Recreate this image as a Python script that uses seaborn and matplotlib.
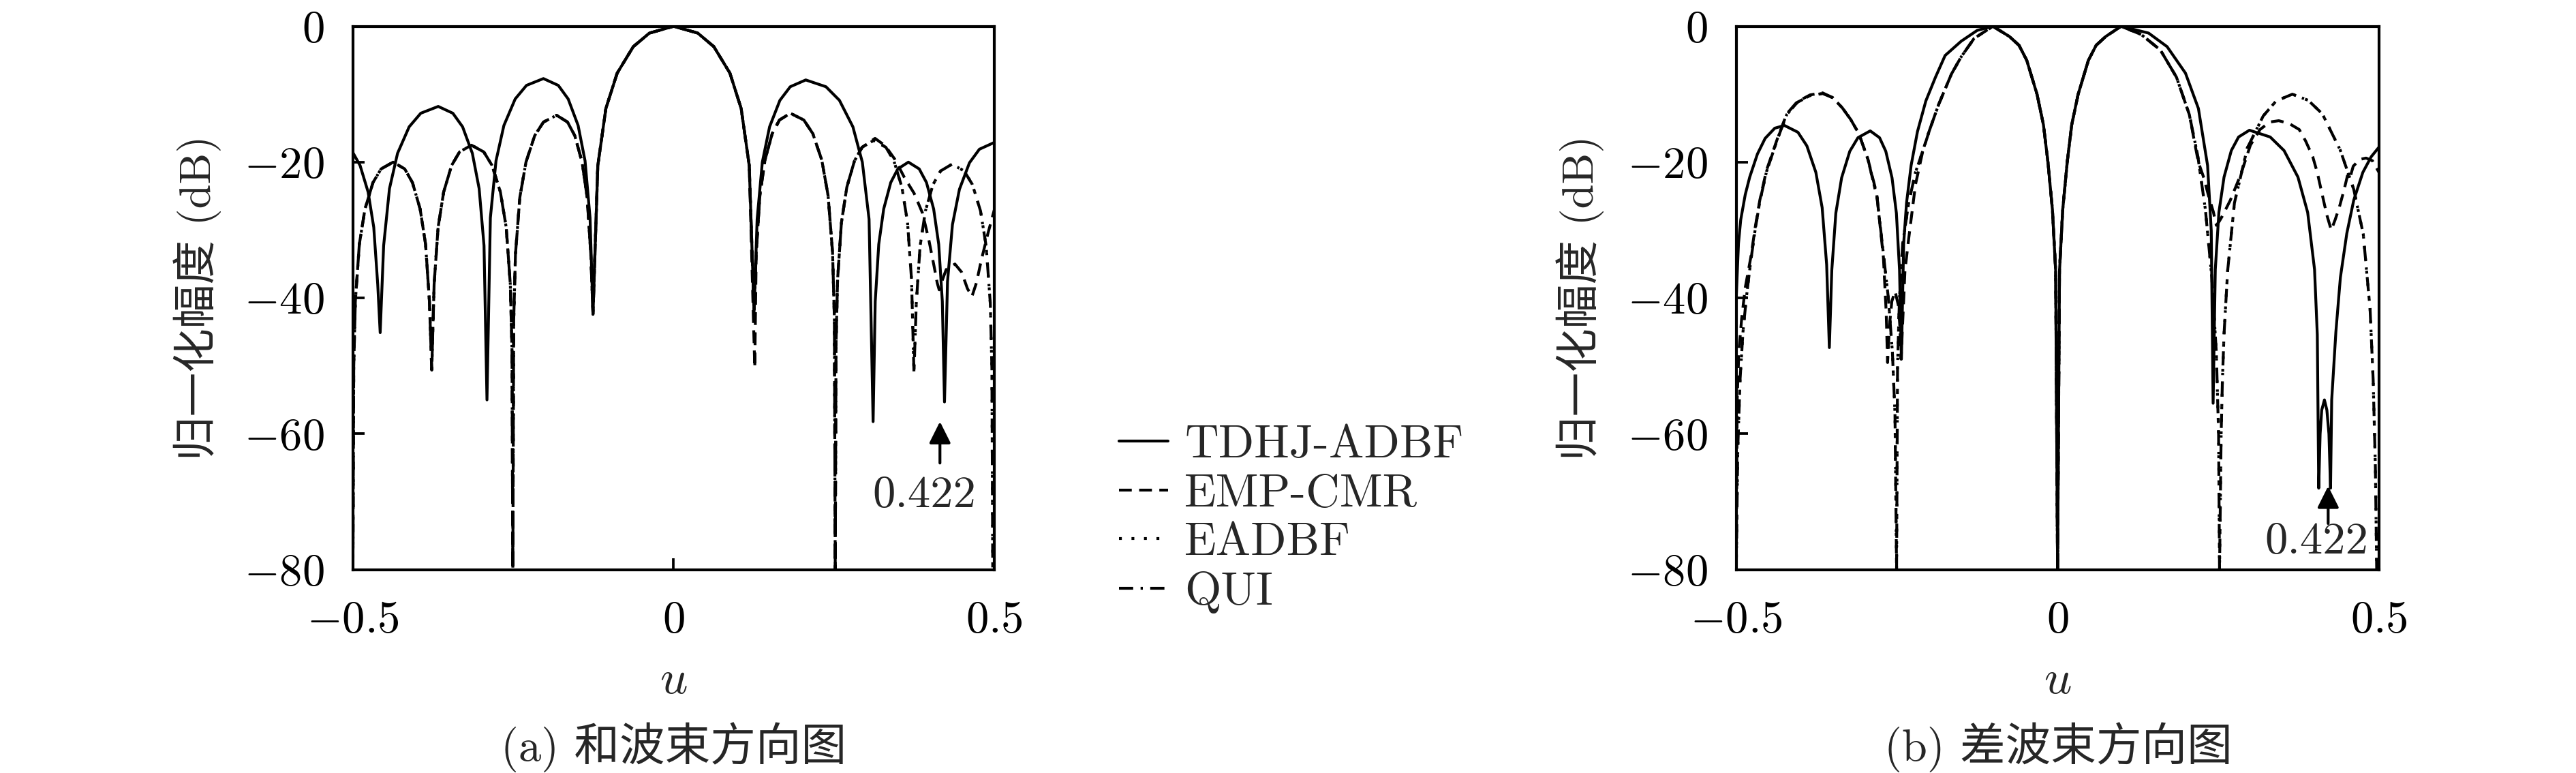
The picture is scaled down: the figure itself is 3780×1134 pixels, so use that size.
import matplotlib
matplotlib.use('Agg')
import matplotlib.pyplot as plt
import seaborn as sns

# ---- data (u, normalised gain in dB) ----

# (a) sum beam
tdhj_sum_u = [-0.5, -0.4888, -0.4763, -0.4675, -0.4613, -0.4575,
              -0.4521, -0.4430, -0.4304, -0.4123, -0.3942, -0.367,
              -0.3442, -0.3290, -0.3138, -0.3032, -0.2956, -0.291,
              -0.2857, -0.2769, -0.2646, -0.2470, -0.2294, -0.203,
              -0.1798, -0.1644, -0.1489, -0.1381, -0.1303, -0.1257,
              -0.1182, -0.1056, -0.0880, -0.0629, -0.0377, 0.0,
              0.0376, 0.0627, 0.0878, 0.1053, 0.1179, 0.1254,
              0.1302, 0.1383, 0.1496, 0.1657, 0.1818, 0.206,
              0.2375, 0.2585, 0.2795, 0.2942, 0.3047, 0.311,
              0.3143, 0.3198, 0.3275, 0.3385, 0.3495, 0.366,
              0.3829, 0.3942, 0.4054, 0.4133, 0.4189, 0.4223,
              0.4270, 0.4347, 0.4456, 0.4612, 0.4767, 0.5]
tdhj_sum_db = [-18.6, -20.5, -24.4, -29.6, -38.0, -45.1,
               -32.3, -23.9, -18.7, -14.8, -12.8, -11.8,
               -12.8, -14.8, -18.7, -23.9, -32.3, -55.0,
               -28.2, -19.8, -14.6, -10.7, -8.7, -7.7,
               -8.7, -10.7, -14.6, -19.8, -28.2, -42.4,
               -20.5, -12.1, -6.9, -3.0, -1.0, 0.0,
               -1.0, -3.0, -6.9, -12.1, -20.5, -42.0,
               -28.4, -20.0, -14.8, -10.9, -8.9, -7.9,
               -8.9, -10.9, -14.8, -20.0, -28.4, -58.2,
               -40.5, -32.1, -26.9, -23.0, -21.0, -20.0,
               -21.0, -23.0, -26.9, -32.1, -40.5, -55.3,
               -37.6, -29.2, -24.0, -20.1, -18.1, -17.1]

qui_sum_u = [-0.5, -0.4987, -0.4962, -0.49, -0.4812, -0.4687, -0.4561, -0.4373,
             -0.4192, -0.4072, -0.3952, -0.3867, -0.3807, -0.3771,
             -0.3734, -0.3672, -0.3585, -0.3462, -0.3338, -0.3152,
             -0.2959, -0.2830, -0.2701, -0.2610, -0.2546, -0.2520, -0.2507,
             -0.2493, -0.2466, -0.2398, -0.2302, -0.2166, -0.2029, -0.1824,
             -0.1654, -0.1541, -0.1427, -0.1348, -0.1291, -0.1257,
             -0.1182, -0.1056, -0.0880, -0.0629, -0.0377, 0.0,
             0.0376, 0.0627, 0.0878, 0.1053, 0.1179, 0.1254,
             0.1288, 0.1345, 0.1424, 0.1537, 0.1650, 0.182,
             0.203, 0.217, 0.231, 0.2408, 0.2478, 0.2506, 0.252,
             0.2532, 0.2556, 0.2616, 0.270, 0.282, 0.294, 0.312,
             0.3308, 0.3434, 0.3559, 0.3647, 0.3709, 0.3747,
             0.3783, 0.3842, 0.3925, 0.4044, 0.4162, 0.434,
             0.453, 0.4658, 0.4785, 0.4873, 0.4937, 0.4962, 0.4975]
qui_sum_db = [-80.0, -50.1, -40.5, -32.1, -26.9, -23.0, -21.0, -20.0,
              -21.0, -23.0, -26.9, -32.1, -40.5, -50.6,
              -38.0, -29.6, -24.4, -20.5, -18.5, -17.5,
              -18.5, -20.5, -24.4, -29.6, -38.0, -47.6, -80.0,
              -43.2, -33.6, -25.2, -20.0, -16.1, -14.1, -13.1,
              -14.1, -16.1, -20.0, -25.2, -33.6, -42.4,
              -20.5, -12.1, -6.9, -3.0, -1.0, 0.0,
              -1.0, -3.0, -6.9, -12.1, -20.5, -42.0,
              -33.3, -24.9, -19.7, -15.8, -13.8, -12.8,
              -13.8, -15.8, -19.7, -24.9, -33.3, -42.9, -80.0,
              -46.9, -37.3, -28.9, -23.7, -19.8, -17.8, -16.8,
              -17.8, -19.8, -23.7, -28.9, -37.3, -51.0,
              -40.8, -32.4, -27.2, -23.3, -21.3, -20.3,
              -21.3, -23.3, -27.2, -32.4, -40.8, -50.4, -80.0]

emp_sum_u = [-0.5, -0.4987, -0.4962, -0.49, -0.4812, -0.4687, -0.4561, -0.4373,
             -0.4192, -0.4072, -0.3952, -0.3867, -0.3807, -0.3771,
             -0.3734, -0.3672, -0.3585, -0.3462, -0.3338, -0.3152,
             -0.2959, -0.2830, -0.2701, -0.2610, -0.2546, -0.2520, -0.2507,
             -0.2493, -0.2466, -0.2398, -0.2302, -0.2166, -0.2029, -0.1824,
             -0.1654, -0.1541, -0.1427, -0.1348, -0.1291, -0.1257,
             -0.1182, -0.1056, -0.0880, -0.0629, -0.0377, 0.0,
             0.0376, 0.0627, 0.0878, 0.1053, 0.1179, 0.1265,
             0.1288, 0.1345, 0.1424, 0.1537, 0.1650, 0.182,
             0.203, 0.217, 0.231, 0.2408, 0.2478, 0.2506, 0.252,
             0.2532, 0.2556, 0.2616, 0.270, 0.282, 0.294, 0.314,
             0.33, 0.345, 0.36, 0.375, 0.388, 0.398, 0.406, 0.411, 0.414,
             0.418, 0.425, 0.4386, 0.449, 0.458, 0.465, 0.472, 0.48, 0.49, 0.5]
emp_sum_db = [-80.0, -50.1, -40.5, -32.1, -26.9, -23.0, -21.0, -20.0,
              -21.0, -23.0, -26.9, -32.1, -40.5, -50.6,
              -38.0, -29.6, -24.4, -20.5, -18.5, -17.5,
              -18.5, -20.5, -24.4, -29.6, -38.0, -47.6, -80.0,
              -43.2, -33.6, -25.2, -20.0, -16.1, -14.1, -13.1,
              -14.1, -16.1, -20.0, -25.2, -33.6, -42.4,
              -20.5, -12.1, -6.9, -3.0, -1.0, 0.0,
              -1.0, -3.0, -6.9, -12.1, -20.5, -50.3,
              -33.3, -24.9, -19.7, -15.8, -13.8, -12.8,
              -13.8, -15.8, -19.7, -24.9, -33.3, -42.9, -80.0,
              -46.9, -37.3, -28.9, -23.7, -19.8, -17.8, -16.5,
              -17.6, -19.6, -22.3, -24.6, -27.5, -31.5, -35.3, -37.8, -38.8,
              -37.6, -35.8, -35.0, -36.2, -38.6, -39.8, -37.8, -34.3, -30.5, -27.0]

# EADBF lies on top of QUI in the sum beam
eadbf_sum_u = list(qui_sum_u)
eadbf_sum_db = list(qui_sum_db)

# (b) difference beam
tdhj_dif_u = [-0.5, -0.4965, -0.493, -0.486, -0.479, -0.467, -0.455, -0.44, -0.425,
              -0.404, -0.3901, -0.3761, -0.3663, -0.3593, -0.3551,
              -0.3513, -0.345, -0.336, -0.3233, -0.3106, -0.2915,
              -0.277, -0.2673, -0.2576, -0.2508, -0.2459, -0.243,
              -0.2395, -0.235, -0.2279, -0.218, -0.205, -0.19, -0.175, -0.15, -0.125, -0.1007,
              -0.075, -0.06, -0.048, -0.032, -0.022, -0.015, -0.008, -0.003, 0.0,
              0.003, 0.008, 0.015, 0.022, 0.032, 0.048, 0.06, 0.075, 0.0988,
              0.1416, 0.1704, 0.199, 0.2191, 0.2334, 0.2391, 0.242,
              0.2454, 0.251, 0.259, 0.2703, 0.2816, 0.2985,
              0.3308, 0.3524, 0.374, 0.3891, 0.3998, 0.4041, 0.4063,
              0.4085, 0.411, 0.4152, 0.419, 0.4222, 0.4247,
              0.4265, 0.433, 0.44, 0.45, 0.4608, 0.475, 0.488, 0.5]
tdhj_dif_db = [-40.0, -32.0, -28.5, -24.8, -22.2, -18.8, -16.5, -15.0, -14.6,
               -15.6, -17.6, -21.5, -26.7, -35.1, -47.3,
               -35.9, -27.5, -22.3, -18.4, -16.4, -15.4,
               -16.4, -18.4, -22.3, -27.5, -35.9, -49.0,
               -32.0, -26.0, -20.5, -15.5, -11.0, -7.5, -4.3, -2.2, -0.6, 0.0,
               -1.5, -2.8, -5.0, -10.0, -14.5, -20.0, -27.0, -36.0, -80.0,
               -36.0, -27.0, -20.0, -14.5, -10.0, -5.0, -2.8, -1.5, 0.0,
               -1.0, -3.0, -6.9, -12.1, -20.5, -30.1, -55.5,
               -35.8, -27.4, -22.2, -18.3, -16.3, -15.3,
               -16.3, -18.3, -22.2, -27.4, -35.8, -45.4, -68.0,
               -60.0, -56.5, -55.0, -56.5, -60.0, -68.0,
               -55.0, -45.0, -37.0, -30.5, -25.6, -21.5, -19.2, -17.8]

qui_dif_u = [-0.5, -0.4975, -0.494, -0.4895, -0.4843, -0.4773, -0.4703, -0.4633,
             -0.4529, -0.4354, -0.4214, -0.405, -0.385, -0.3657,
             -0.35, -0.335, -0.322, -0.3092, -0.295, -0.2809, -0.271, -0.2633, -0.257, -0.253, -0.2505,
             -0.249, -0.246, -0.241, -0.2317, -0.2211, -0.2138, -0.2, -0.185, -0.165, -0.15, -0.13, -0.1007,
             -0.075, -0.06, -0.048, -0.032, -0.022, -0.015, -0.008, -0.003, 0.0,
             0.003, 0.008, 0.015, 0.022, 0.032, 0.048, 0.06, 0.075, 0.0988,
             0.13, 0.16, 0.185, 0.205, 0.218, 0.23, 0.24, 0.247, 0.2505, 0.252,
             0.2545, 0.2565, 0.259, 0.2646, 0.2752, 0.2953, 0.32, 0.34, 0.3653,
             0.39, 0.412, 0.4397, 0.4608, 0.4756, 0.4862, 0.491, 0.4945, 0.4965]
qui_dif_db = [-80.0, -62.0, -52.0, -45.0, -40.0, -34.5, -29.8, -25.8,
              -21.4, -16.5, -13.0, -11.2, -10.2, -9.9,
              -10.5, -12.0, -13.7, -15.8, -19.6, -25.2, -33.5, -40.0, -48.0, -57.0, -80.0,
              -50.0, -40.0, -32.0, -26.0, -21.5, -19.5, -15.5, -11.5, -7.0, -4.5, -1.8, 0.0,
              -1.5, -2.8, -5.0, -10.0, -14.5, -20.0, -27.0, -36.0, -80.0,
              -36.0, -27.0, -20.0, -14.5, -10.0, -5.0, -2.8, -1.5, 0.0,
              -1.2, -3.5, -7.5, -13.0, -19.0, -27.0, -37.0, -48.0, -60.0, -80.0,
              -60.0, -52.0, -45.3, -36.0, -26.0, -17.9, -13.2, -11.0, -10.0,
              -10.9, -12.9, -18.2, -24.0, -30.6, -41.6, -52.0, -65.0, -80.0]

emp_dif_u = [-0.5, -0.4985, -0.496, -0.4915, -0.486, -0.4773, -0.4703, -0.4633,
             -0.4529, -0.4354, -0.4214, -0.405, -0.385, -0.3657,
             -0.35, -0.335, -0.322, -0.3092, -0.295, -0.2815, -0.271, -0.2667, -0.2645,
             -0.2615, -0.2579, -0.2529, -0.2479, -0.2455, -0.2435,
             -0.2375, -0.2317, -0.2211, -0.21, -0.2, -0.185, -0.165, -0.15, -0.13, -0.1007,
             -0.075, -0.06, -0.048, -0.032, -0.022, -0.015, -0.008, -0.003, 0.0,
             0.003, 0.008, 0.015, 0.022, 0.032, 0.048, 0.06, 0.075, 0.0988,
             0.13, 0.16, 0.185, 0.205, 0.219, 0.2275, 0.235, 0.2423, 0.247, 0.251, 0.256,
             0.2688, 0.2847, 0.3, 0.315, 0.33, 0.3441, 0.36, 0.376, 0.386, 0.397, 0.404,
             0.413, 0.419, 0.4258, 0.4318, 0.4385, 0.446, 0.451, 0.4544, 0.46, 0.4703,
             0.48, 0.49, 0.5]
emp_dif_db = [-80.0, -55.0, -48.0, -43.0, -38.5, -34.0, -29.5, -25.6,
              -21.2, -16.4, -12.9, -11.1, -10.1, -9.8,
              -10.5, -12.0, -13.7, -15.8, -19.6, -24.6, -34.0, -42.0, -49.5,
              -44.0, -40.5, -39.0, -41.0, -44.0, -49.0,
              -36.0, -31.3, -23.3, -18.5, -15.5, -11.5, -7.0, -4.5, -1.8, 0.0,
              -1.5, -2.8, -5.0, -10.0, -14.5, -20.0, -27.0, -36.0, -80.0,
              -36.0, -27.0, -20.0, -14.5, -10.0, -5.0, -2.8, -1.5, 0.0,
              -1.2, -3.5, -7.5, -13.0, -20.0, -22.3, -25.0, -27.3, -29.3, -28.8, -28.0,
              -25.6, -21.9, -17.5, -15.2, -14.1, -13.9, -14.3, -15.2, -16.9, -19.2, -21.5,
              -25.3, -27.8, -30.0, -28.5, -26.6, -24.0, -22.0, -22.5, -20.6, -19.6,
              -19.4, -19.8, -21.5]

# EADBF lies on top of QUI in the difference beam as well
eadbf_dif_u = list(qui_dif_u)
eadbf_dif_db = list(qui_dif_db)

METHODS = ['TDHJ-ADBF', 'EMP-CMR', 'EADBF', 'QUI']
STYLES = {'TDHJ-ADBF': '-',
          'EMP-CMR': (0, (4.5, 2.6)),
          'EADBF': (0, (1.0, 3.4)),
          'QUI': (0, (5.0, 2.6, 0.8, 2.6))}

SUM = {'TDHJ-ADBF': (tdhj_sum_u, tdhj_sum_db), 'EMP-CMR': (emp_sum_u, emp_sum_db),
       'EADBF': (eadbf_sum_u, eadbf_sum_db), 'QUI': (qui_sum_u, qui_sum_db)}
DIF = {'TDHJ-ADBF': (tdhj_dif_u, tdhj_dif_db), 'EMP-CMR': (emp_dif_u, emp_dif_db),
       'EADBF': (eadbf_dif_u, eadbf_dif_db), 'QUI': (qui_dif_u, qui_dif_db)}

ANNOT_U = [0.4152, 0.421]
ANNOT_TEXT = '0.422'

sns.set_style('ticks')
plt.rcParams['font.family'] = ['cmr10', 'Noto Sans CJK SC', 'DejaVu Sans']
plt.rcParams['mathtext.fontset'] = 'cm'
plt.rcParams['axes.formatter.use_mathtext'] = True
plt.rcParams['axes.linewidth'] = 1.0

fig = plt.figure(figsize=(12.6, 3.78), dpi=300)
ax_a = fig.add_axes([0.137, 0.263, 0.249, 0.703])
ax_b = fig.add_axes([0.674, 0.263, 0.2495, 0.703])

for ax, data in ((ax_a, SUM), (ax_b, DIF)):
    for m in METHODS:
        u, db = data[m]
        sns.lineplot(x=u, y=db, ax=ax, color='black', lw=1.0, sort=False,
                     estimator=None, legend=False, label=m, linestyle=STYLES[m])
    ax.set_xlim(-0.5, 0.5)
    ax.set_ylim(-80, 0)
    ax.set_xticks([-0.5, 0, 0.5])
    ax.set_xticklabels([r'$-0.5$', r'$0$', r'$0.5$'])
    ax.set_yticks([0, -20, -40, -60, -80])
    ax.set_yticklabels([r'$0$', r'$-20$', r'$-40$', r'$-60$', r'$-80$'])
    ax.tick_params(direction='in', length=4, width=0.9, labelsize=16, colors='black')
    ax.tick_params(axis='y', pad=10)
    ax.tick_params(axis='x', pad=11)
    for s in ax.spines.values():
        s.set_visible(True)
        s.set_color('black')
        s.set_linewidth(1.0)
    ax.set_xlabel(r'$u$', fontsize=17)
    ax.xaxis.set_label_coords(0.5, -0.165)
    ax.set_ylabel('归一化幅度 (dB)', fontsize=15.5)
    ax.yaxis.set_label_coords(-0.205, 0.5)

# arrows marking u = 0.422
ax_a.annotate('', xy=(ANNOT_U[0], -58.2), xytext=(ANNOT_U[0], -64.3),
              arrowprops=dict(arrowstyle='-|>,head_length=0.4,head_width=0.2',
                              color='black', lw=1.0, shrinkA=0, shrinkB=0,
                              mutation_scale=16))
ax_a.text(0.3906, -69.1, ANNOT_TEXT, ha='center', va='center', fontsize=16)
ax_b.annotate('', xy=(ANNOT_U[1], -67.7), xytext=(ANNOT_U[1], -73.2),
              arrowprops=dict(arrowstyle='-|>,head_length=0.4,head_width=0.2',
                              color='black', lw=1.0, shrinkA=0, shrinkB=0,
                              mutation_scale=16))
ax_b.text(0.403, -75.9, ANNOT_TEXT, ha='center', va='center', fontsize=16)

handles, labels = ax_a.get_legend_handles_labels()
fig.legend(handles, labels, loc='upper left', bbox_to_anchor=(0.418, 0.505),
           frameon=False, prop={'family': 'cmr10', 'size': 16.5},
           handlelength=1.05, handletextpad=0.35, labelspacing=0.15)

fig.text(0.2614, 0.033, '(a) 和波束方向图', ha='center', va='center', fontsize=16)
fig.text(0.799, 0.033, '(b) 差波束方向图', ha='center', va='center', fontsize=16)

plt.savefig('out.png', dpi=300)
